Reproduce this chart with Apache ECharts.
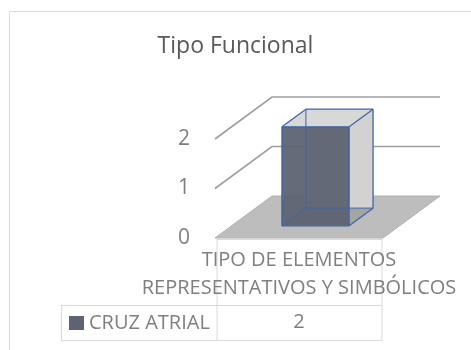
<!DOCTYPE html>
<html>
<head>
<meta charset="utf-8">
<script src="https://cdn.jsdelivr.net/npm/echarts@6/dist/echarts.min.js"></script>
<style>
  html, body { margin: 0; padding: 0; background: #fff; }
  #chart { width: 471px; height: 350px; }
</style>
</head>
<body>
<div id="chart"></div>
<script>
// datos
const categories = ['TIPO DE ELEMENTOS\nREPRESENTATIVOS Y SIMBÓLICOS'];
const seriesName = 'CRUZ ATRIAL';
const values = [2];
const yTicks = [0, 1, 2];

// profundidad de la vista 3D (px)
const DX = 57, DY = -42;
const FONT = 'Open Sans';
const GRID = { left: 215, right: 88, top: 139, bottom: 112 };

let chart = echarts.init(document.getElementById('chart'));

function renderWalls(params, api) {
    let cs = params.coordSys;
    let v = api.value(1);
    let y = api.coord([0, v])[1];
    let x0 = cs.x, x1 = cs.x + cs.width;
    if (v === 0) {
        return {
            type: 'polygon',
            shape: { points: [[x0, y], [x1, y], [x1 + DX, y + DY], [x0 + DX, y + DY]] },
            style: { fill: '#bdbdbd', stroke: '#b0b0b0', lineWidth: 1 }
        };
    }
    return {
        type: 'polyline',
        shape: { points: [[x0, y], [x0 + DX, y + DY], [x1 + DX, y + DY]] },
        style: { fill: null, stroke: '#9e9e9e', lineWidth: 1.6 }
    };
}

function renderColumn(params, api) {
    let cs = params.coordSys;
    let idx = api.value(0);
    let c = api.coord([idx, 0]);
    let t = api.coord([idx, api.value(1)]);
    let bw = api.size([1, 0])[0] * 0.4;
    let d1 = 0.29, d2 = 0.71;
    let xl = c[0] - bw / 2, xr = c[0] + bw / 2, yb = c[1], yt = t[1];
    let f = [DX * d1, DY * d1], b = [DX * d2, DY * d2];
    let F = {
        bl: [xl + f[0], yb + f[1]], br: [xr + f[0], yb + f[1]],
        tr: [xr + f[0], yt + f[1]], tl: [xl + f[0], yt + f[1]]
    };
    let B = {
        bl: [xl + b[0], yb + b[1]], br: [xr + b[0], yb + b[1]],
        tr: [xr + b[0], yt + b[1]], tl: [xl + b[0], yt + b[1]]
    };
    let edge = '#4165a8';
    let line = (p, q, op) => ({
        type: 'line',
        shape: { x1: p[0], y1: p[1], x2: q[0], y2: q[1] },
        style: { stroke: edge, lineWidth: 1.3, opacity: op || 1 }
    });
    let poly = (pts, fill, op) => ({
        type: 'polygon',
        shape: { points: pts },
        style: { fill: fill, opacity: op || 1 }
    });
    return {
        type: 'group',
        children: [
            poly([B.bl, B.br, B.tr, B.tl], '#d2d2d2'),
            poly([F.bl, F.br, B.br, B.bl], '#a4a4a4'),
            poly([F.tl, F.tr, B.tr, B.tl], '#d8d8d8'),
            poly([F.bl, F.br, F.tr, F.tl], api.visual('color'), 0.95),
            // aristas ocultas vistas a través
            line(B.bl, B.tl, 0.8),
            line(B.bl, B.br, 0.8),
            line(F.bl, B.bl, 0.8),
            // aristas visibles
            line(F.bl, F.br), line(F.br, F.tr), line(F.tr, F.tl), line(F.tl, F.bl),
            line(F.tl, B.tl), line(B.tl, B.tr), line(B.tr, F.tr),
            line(B.tr, B.br), line(B.br, F.br),
            {
                type: 'text',
                style: {
                    text: String(api.value(1)),
                    x: c[0], y: cs.y + cs.height + 84,
                    align: 'center', verticalAlign: 'middle',
                    fontFamily: FONT, fontSize: 20, fill: '#7f7f7f'
                }
            }
        ]
    };
}

// tabla de datos (bordes)
const tb = GRID.top + (350 - GRID.top - GRID.bottom);
const tl = GRID.left + 2, tr = 471 - GRID.right - 1;
const tableColor = '#d9d9d9';
function hline(y, x1, x2) {
    return { type: 'line', shape: { x1: x1, y1: y, x2: x2, y2: y }, style: { stroke: tableColor, lineWidth: 1 }, silent: true };
}
function vline(x, y1, y2) {
    return { type: 'line', shape: { x1: x, y1: y1, x2: x, y2: y2 }, style: { stroke: tableColor, lineWidth: 1 }, silent: true };
}

let options = {
    animation: false,
    title: {
        text: 'Tipo Funcional',
        left: 'center',
        top: 30,
        textStyle: { fontFamily: FONT, fontSize: 23, fontWeight: 'normal', color: '#595959' }
    },
    legend: {
        data: [seriesName],
        left: 64,
        top: 308,
        itemWidth: 15,
        itemHeight: 14,
        icon: 'rect',
        textStyle: { fontFamily: FONT, fontSize: 20, color: '#7f7f7f' }
    },
    grid: GRID,
    xAxis: {
        type: 'category',
        data: categories,
        axisLine: { show: false },
        axisTick: { show: false },
        splitLine: { show: false },
        axisLabel: {
            margin: 8,
            interval: 0,
            fontFamily: FONT,
            fontSize: 20,
            lineHeight: 28,
            color: '#7f7f7f'
        }
    },
    yAxis: {
        type: 'value',
        min: 0,
        max: 2,
        interval: 1,
        axisLine: { show: false },
        axisTick: { show: false },
        splitLine: { show: false },
        axisLabel: { margin: 25, fontFamily: FONT, fontSize: 21, color: '#7f7f7f' }
    },
    graphic: [
        { type: 'rect', shape: { x: 9.5, y: 11.5, width: 520, height: 400 }, style: { fill: null, stroke: '#d9d9d9', lineWidth: 1 }, silent: true },
        vline(tl, tb + 1, tb + 102),
        vline(tr, tb + 1, tb + 102),
        hline(tb + 1.5, tl, tr),
        hline(tb + 67.5, 61, tr),
        hline(tb + 102.5, 61, tr),
        vline(61.5, tb + 67, tb + 102)
    ],
    series: [
        {
            name: 'muros',
            type: 'custom',
            renderItem: renderWalls,
            data: yTicks.map(v => [0, v]),
            silent: true,
            z: 1
        },
        {
            name: seriesName,
            type: 'custom',
            renderItem: renderColumn,
            itemStyle: { color: '#5d6371' },
            data: values.map((v, i) => [i, v]),
            z: 2
        }
    ]
};
chart.setOption(options);
</script>
</body>
</html>
